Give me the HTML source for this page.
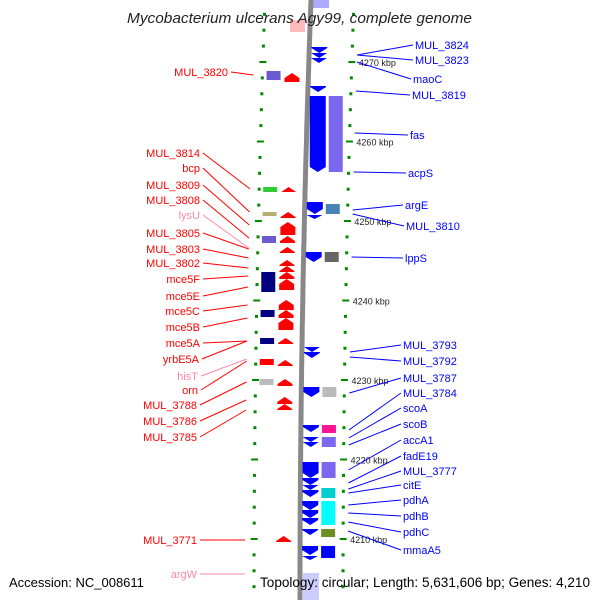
<!DOCTYPE html>
<html><head><meta charset="utf-8"><style>
body{margin:0;background:#fff}
svg{display:block;font-family:"Liberation Sans",sans-serif}
</style></head><body>
<svg id="c" width="600" height="600" viewBox="0 0 600 600">
<g id="g"></g>
<text x="127" y="23" textLength="345" lengthAdjust="spacingAndGlyphs" font-size="15" font-style="italic" fill="#222">Mycobacterium ulcerans Agy99, complete genome</text>
<text x="9" y="587" font-size="13" fill="#000">Accession: NC_008611</text>
<text x="260" y="587" textLength="330" lengthAdjust="spacingAndGlyphs" font-size="13.5" fill="#000">Topology: circular; Length: 5,631,606 bp; Genes: 4,210</text>
</svg>
<script>
// tick positions (kbp)
const majorTicks=[4270,4260,4250,4240,4230,4220,4210];
// left (reverse strand) labels
const leftNames=["MUL_3820","MUL_3814","bcp","MUL_3809","MUL_3808","lysU","MUL_3805","MUL_3803","MUL_3802","mce5F","mce5E","mce5C","mce5B","mce5A","yrbE5A","hisT","orn","MUL_3788","MUL_3786","MUL_3785","MUL_3771","argW"];
const leftLabelY=[76,157,172,189,204,219,237,253,267,283,300,315,331,347,363,380,394,409,425,441,544,578];
const leftLabelX=[228,200,200,200,200,200,200,200,200,200,200,200,200,200,199,198,198,197,197,197,197,197];
const leftTargetY=[75,189,212,225,238,248,249,258,268,276,287,305,318,341,341,359,361,382,400,410,540,574];
const leftPink=["lysU","hisT","argW"];
// right (forward strand) labels
const rightNames=["MUL_3824","MUL_3823","maoC","MUL_3819","fas","acpS","argE","MUL_3810","lppS","MUL_3793","MUL_3792","MUL_3787","MUL_3784","scoA","scoB","accA1","fadE19","MUL_3777","citE","pdhA","pdhB","pdhC","mmaA5"];
const rightLabelY=[49,64,83,99,139,177,209,230,262,349,365,382,397,412,428,444,460,475,489,504,520,536,554];
const rightLabelX=[415,415,413,412,410,408,405,406,405,403,403,403,403,403,403,403,403,403,403,403,403,403,403];
const rightTargetY=[55,55,62,91,133,172,210,214,257,352,357,393,430,438,445,470,483,489,493,505,513,522,531];
// genes: [top y, bottom y, color]
const leftBoxes=[[71,80,"#6a5acd"],[187,192,"#3c3"],[212,216,"#b5b070"],[236,243,"#6a5acd"],[272,292,"#000080"],[310,317,"#000080"],[338,344,"#000080"],[359,365,"#f00"],[379,385,"#bbb"]];
const rightBoxes=[[96,172,"#7b68ee"],[204,214,"#4682b4"],[252,262,"#666"],[387,397,"#bbb"],[425,433,"#ff1493"],[437,447,"#7b68ee"],[462,478,"#7b68ee"],[488,498,"#00ced1"],[501,525,"#0ff"],[529,537,"#6b8e23"],[546,558,"#00f"]];
const redArrows=[[73,82],[187,192],[212,218],[222,235],[236,243],[247,253],[260,266],[266,272],[272,279],[279,290],[300,310],[310,318],[318,330],[338,344],[360,366],[379,386],[397,404],[404,410],[536,542]];
const blueArrows=[[47,53],[53,58],[58,63],[86,92],[96,172],[202,214],[215,219],[252,262],[347,352],[352,358],[387,397],[425,432],[437,442],[442,447],[462,478],[478,485],[485,490],[490,497],[501,510],[510,518],[518,525],[529,535],[546,555],[556,560]];
const ns="http://www.w3.org/2000/svg";
const G=document.getElementById('g');
const yOf=k=>62+(4270-k)*7.95;
const spineX=y=>{const t=Math.min(Math.max(y,0),600)/600;return 311-11*(1-(1-t)*(1-t));};
function el(t,a){const e=document.createElementNS(ns,t);for(const k in a)e.setAttribute(k,a[k]);G.appendChild(e);return e;}
// faded partial genes near edges
let f1=el("rect",{x:290,y:20,width:15,height:12,fill:"#fbb"});


let f2=el("rect",{x:313,y:0,width:16,height:8,fill:"#aaf"});


let f3=el("rect",{x:303,y:573,width:16,height:27,fill:"#ccf"});


// backbone
let d="";for(let y=0;y<=600;y+=10)d+=(y?"L":"M")+spineX(y).toFixed(1)+" "+y;
let sp=el("path",{d:d,stroke:"#888",fill:"none","stroke-width":5});


// ticks every 2 kbp
for(let k=4276;k>=4202;k-=2){
 const y=yOf(k);const major=k%10===0;
 const lx=spineX(y)-46, rx=spineX(y)+43;
 const w=major?7:3,h=major?2:3;
 let a=el("rect",{x:lx-w/2,y:y-h/2,width:w,height:h,fill:"#080"});
 
 
 let b=el("rect",{x:rx-w/2,y:y-h/2,width:w,height:h,fill:"#080"});
 
 
}
majorTicks.forEach(k=>{const y=yOf(k);
 let t=el("text",{x:spineX(y)+50,y:y+4,"font-size":9,fill:"#222"});t.textContent=k+" kbp";
 
 });
// genes
leftBoxes.forEach(b=>{const x=spineX(b[0])-42;
 let r=el("rect",{x:x,y:b[0],width:14,height:b[1]-b[0],fill:b[2]});
 
 });
rightBoxes.forEach(b=>{const x=spineX(b[0])+21;
 let r=el("rect",{x:x,y:b[0],width:14,height:b[1]-b[0],fill:b[2]});
 
 });
redArrows.forEach(a=>{const x=spineX(a[0])-24,w=15,h=a[1]-a[0],hd=Math.min(5,h);
 let p=el("path",{d:`M${x} ${a[1]}L${x} ${a[0]+hd}L${x+w/2} ${a[0]}L${x+w} ${a[0]+hd}L${x+w} ${a[1]}Z`,fill:"#f00"});
 
 });
blueArrows.forEach(a=>{const x=spineX(a[0])+2,w=16,h=a[1]-a[0],hd=Math.min(5,h);
 let p=el("path",{d:`M${x} ${a[0]}L${x+w} ${a[0]}L${x+w} ${a[1]-hd}L${x+w/2} ${a[1]}L${x} ${a[1]-hd}Z`,fill:"#00f"});
 
 });
// labels
leftNames.forEach((n,i)=>{const c=leftPink.includes(n)?"#f8a":"#f00";
 let l=el("line",{x1:leftLabelX[i]+3,y1:leftLabelY[i]-4,x2:spineX(leftTargetY[i])-55,y2:leftTargetY[i],stroke:c,"stroke-width":1});
 
 
 let t=el("text",{x:leftLabelX[i],y:leftLabelY[i],"text-anchor":"end","font-size":11,fill:c});t.textContent=n;
 
 });
rightNames.forEach((n,i)=>{
 let l=el("line",{x1:rightLabelX[i]-2,y1:rightLabelY[i]-4,x2:spineX(rightTargetY[i])+48,y2:rightTargetY[i],stroke:"#00f","stroke-width":1});
 
 
 let t=el("text",{x:rightLabelX[i],y:rightLabelY[i],"font-size":11,fill:"#00f"});t.textContent=n;
 
 });
</script>
</body></html>
